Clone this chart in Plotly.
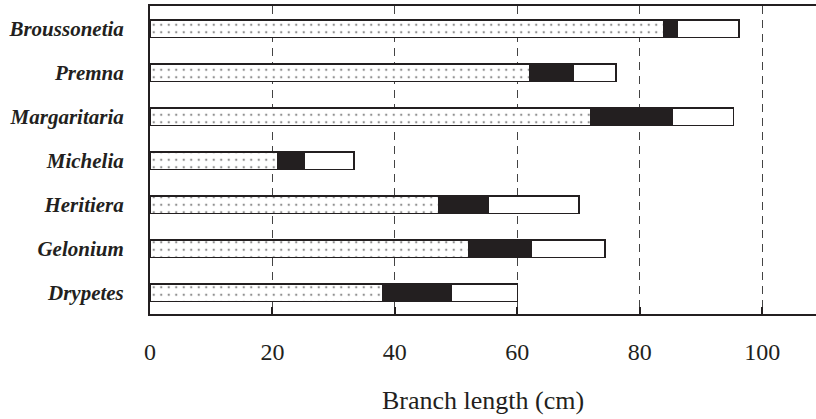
import plotly.graph_objects as go

# Categories listed bottom to top
species = ["Drypetes", "Gelonium", "Heritiera", "Michelia", "Margaritaria", "Premna", "Broussonetia"]
dotted_len = [38.0, 52.0, 47.1, 20.9, 72.0, 62.0, 83.9]
black_len = [11.2, 10.2, 8.1, 4.3, 13.3, 7.2, 2.3]
white_len = [10.8, 12.1, 14.9, 8.1, 10.0, 6.9, 10.0]
x_ticks = [0, 20, 40, 60, 80, 100]

serif = "Times New Roman, Liberation Serif, serif"
ink = "#231f20"
outline = dict(color=ink, width=1.5)

fig = go.Figure()
fig.add_trace(go.Bar(
    y=species, x=dotted_len, orientation="h", width=0.4,
    marker=dict(color="white", line=outline,
                pattern=dict(shape=".", fgcolor="#222222", bgcolor="white", size=7.5, solidity=0.08)),
    showlegend=False))
fig.add_trace(go.Bar(
    y=species, x=black_len, orientation="h", width=0.4,
    marker=dict(color=ink, line=outline), showlegend=False))
fig.add_trace(go.Bar(
    y=species, x=white_len, orientation="h", width=0.4,
    marker=dict(color="white", line=outline), showlegend=False))

fig.update_layout(
    width=816, height=419,
    margin=dict(l=150, r=0, t=6, b=105, autoexpand=False),
    barmode="stack",
    plot_bgcolor="white", paper_bgcolor="white",
    font=dict(family=serif, color=ink),
    xaxis=dict(
        range=[0, 108.8], tickvals=x_ticks,
        ticks="inside", ticklen=7, tickwidth=1.5, tickcolor=ink,
        showline=True, linecolor=ink, linewidth=2, mirror=True,
        showgrid=True, gridcolor="#444444", gridwidth=1, griddash="8px,6px",
        zeroline=False,
        tickfont=dict(family=serif, size=24, color=ink),
        ticklabelstandoff=15,
        title=dict(text="Branch length (cm)", font=dict(family=serif, size=26, color=ink), standoff=27),
    ),
    yaxis=dict(
        range=[-0.48, 6.52], type="category",
        showline=True, linecolor=ink, linewidth=2,
        showgrid=False, ticks="", zeroline=False,
        tickfont=dict(family=serif, size=21, color=ink, weight="bold", style="italic"),
        ticklabelstandoff=20,
    ),
)

fig.write_html("out.html", config={"displayModeBar": False},
               post_script="document.body.style.margin='0';")
